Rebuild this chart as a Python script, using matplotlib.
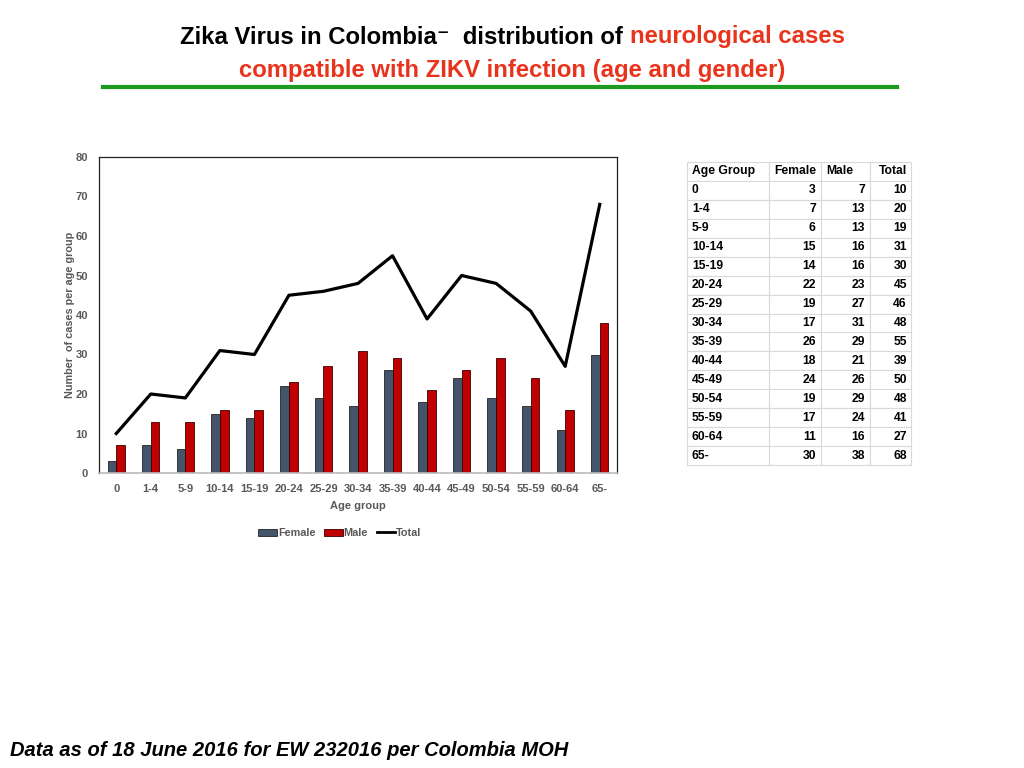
import numpy as np
import matplotlib
matplotlib.use('Agg')
import matplotlib.pyplot as plt
from matplotlib.patches import Patch
from matplotlib.lines import Line2D

age_groups = ['0', '1-4', '5-9', '10-14', '15-19', '20-24', '25-29', '30-34',
              '35-39', '40-44', '45-49', '50-54', '55-59', '60-64', '65-']
female = [3, 7, 6, 15, 14, 22, 19, 17, 26, 18, 24, 19, 17, 11, 30]
male = [7, 13, 13, 16, 16, 23, 27, 31, 29, 21, 26, 29, 24, 16, 38]
total = [10, 20, 19, 31, 30, 45, 46, 48, 55, 39, 50, 48, 41, 27, 68]

FEMALE_C = '#44546A'
MALE_C = '#C00000'
GRAY = '#595959'
RED_T = '#E8341C'

plt.rcParams['font.family'] = ['Liberation Sans', 'DejaVu Sans']

fig = plt.figure(figsize=(10.24, 7.68), dpi=100)

# ---------- title ----------
TITLE_FS = 17.2
t1 = fig.text(180 / 1024, 1 - 37 / 768, 'Zika Virus in Colombia\u207b  distribution of ',
              fontsize=TITLE_FS, fontweight='bold', color='black', va='center', ha='left')
fig.canvas.draw()
bb = t1.get_window_extent()
fig.text(bb.x1 / fig.bbox.width, 1 - 37 / 768, 'neurological cases',
         fontsize=TITLE_FS, fontweight='bold', color=RED_T, va='center', ha='left')

fig.text(512 / 1024, 1 - 70 / 768, 'compatible with ZIKV infection (age and gender)',
         fontsize=TITLE_FS, fontweight='bold', color=RED_T, va='center', ha='center')
fig.add_artist(Line2D([103 / 1024, 897 / 1024], [1 - 87 / 768, 1 - 87 / 768],
                      color='#1E9A1E', lw=3, transform=fig.transFigure))

# ---------- chart ----------
ax = fig.add_axes([99 / 1024, 1 - 473 / 768, 518 / 1024, 316 / 768])
x = np.arange(len(age_groups))
w = 0.25
ax.bar(x - w / 2, female, width=w, color=FEMALE_C, edgecolor='#222222', linewidth=0.6,
       label='Female', zorder=2)
ax.bar(x + w / 2, male, width=w, color=MALE_C, edgecolor='#3a0000', linewidth=0.6,
       label='Male', zorder=2)
ax.plot(x, total, color='black', lw=2.3, label='Total', zorder=3)

ax.set_xlim(-0.5, len(age_groups) - 0.5)
ax.set_ylim(0, 80)
ax.set_yticks(range(0, 81, 10))
ax.set_xticks(x)
ax.set_xticklabels(age_groups)
ax.tick_params(axis='both', length=0, labelsize=8, labelcolor=GRAY, pad=8)
for lab in ax.get_xticklabels() + ax.get_yticklabels():
    lab.set_fontweight('bold')
for s in ['left', 'top', 'right']:
    ax.spines[s].set_color('#222222')
    ax.spines[s].set_linewidth(0.9)
ax.spines['bottom'].set_color('#BBBBBB')
ax.spines['bottom'].set_linewidth(1.2)

ax.set_ylabel('Number  of cases per age group', fontsize=7.8, fontweight='bold',
              color=GRAY, labelpad=0)
ax.set_xlabel('Age group', fontsize=8, fontweight='bold', color=GRAY, labelpad=5)

handles = [Patch(facecolor=FEMALE_C, edgecolor='#222222', linewidth=0.6),
           Patch(facecolor=MALE_C, edgecolor='#3a0000', linewidth=0.6),
           Line2D([0], [0], color='black', lw=2)]
leg = fig.legend(handles, ['Female', 'Male', 'Total'], loc='center',
                 bbox_to_anchor=(340 / 1024, 1 - 533 / 768), ncol=3, frameon=False,
                 fontsize=7.8, handlelength=1.7, handleheight=0.65, handletextpad=0.1,
                 columnspacing=0.8)
for t in leg.get_texts():
    t.set_color(GRAY)
    t.set_fontweight('bold')

# ---------- table ----------
tax = fig.add_axes([687 / 1024, 1 - 465 / 768, 224 / 1024, 303 / 768])
tax.axis('off')
cell_text = [[g, str(f), str(m), str(t)] for g, f, m, t in zip(age_groups, female, male, total)]
col_labels = ['Age Group', 'Female', 'Male', 'Total']
tbl = tax.table(cellText=cell_text, colLabels=col_labels, bbox=[0, 0, 1, 1],
                colWidths=[82, 52, 49, 41], cellLoc='right')
tbl.auto_set_font_size(False)
for (r, c), cell in tbl.get_celld().items():
    cell.set_edgecolor('#D9D9D9')
    cell.set_linewidth(0.8)
    txt = cell.get_text()
    txt.set_fontsize(8.7)
    txt.set_fontweight('bold')
    txt.set_color('black')
    if c == 0:
        txt.set_ha('left')
        cell.PAD = 0.06
    else:
        txt.set_ha('right')
        cell.PAD = 0.1
    if r == 0 and c == 2:
        txt.set_ha('left')

# ---------- footer ----------
fig.text(10 / 1024, 1 - 751 / 768, 'Data as of 18 June 2016 for EW 232016 per Colombia MOH',
         fontsize=14.5, fontweight='bold', fontstyle='italic', color='black',
         va='center', ha='left')

fig.savefig('out.png', dpi=100)
